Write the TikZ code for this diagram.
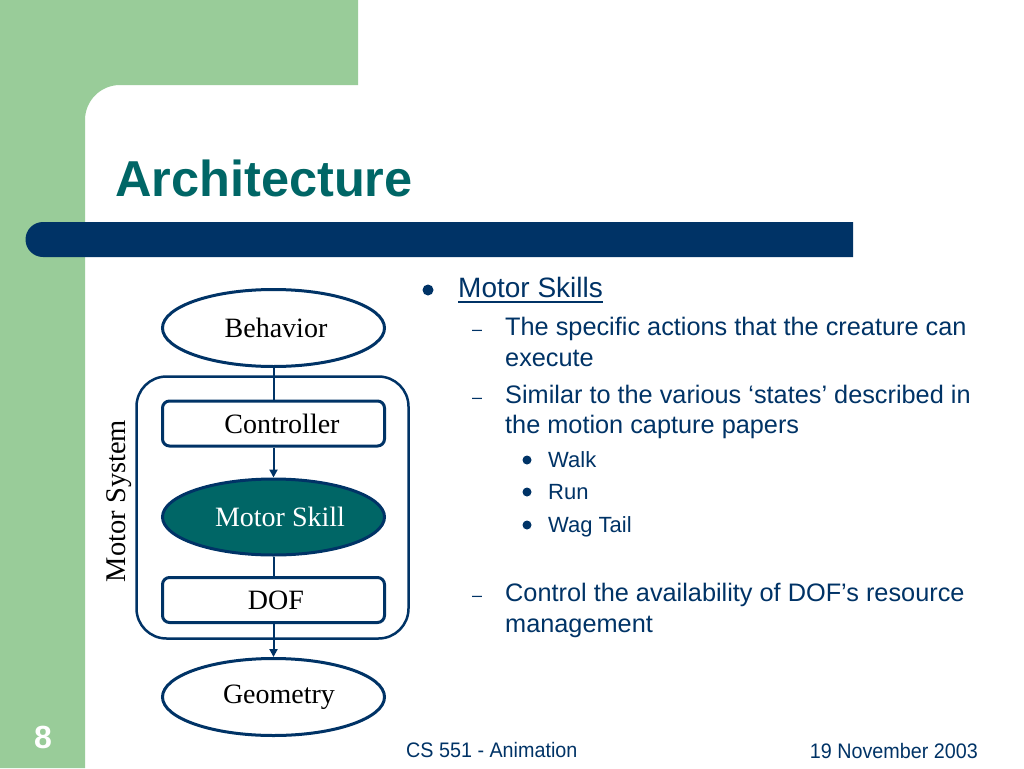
\documentclass[tikz,border=0pt]{standalone}
\usepackage{fontspec}
\usepackage{graphicx}
\setmainfont{Liberation Serif}
\setsansfont{Liberation Sans}
\usetikzlibrary{shapes.geometric,arrows.meta,calc}
\definecolor{navy}{RGB}{0,51,102}
\definecolor{slideteal}{RGB}{0,102,102}
\definecolor{slidegreen}{RGB}{153,204,153}
\newcommand{\fs}[1]{\fontsize{#1}{#1}\selectfont}
\tikzset{
  ovalnode/.style={ellipse, draw=navy, line width=3pt, minimum width=222pt, minimum height=77pt, inner sep=0pt, font=\fs{28}},
  boxnode/.style={rectangle, rounded corners=7pt, draw=navy, line width=3pt, minimum width=222pt, minimum height=45pt, inner sep=0pt, font=\fs{28}},
  link/.style={draw=navy, line width=2pt},
  arrowlink/.style={link, -{Triangle[length=8pt,width=8pt]}},
  body/.style={anchor=base west, inner sep=0pt, text=navy, font=\sffamily\fs{25.3}},
  sub/.style={anchor=base west, inner sep=0pt, text=navy, font=\sffamily\fs{22}},
  dashmark/.style={anchor=base west, inner sep=0pt, text=navy, font=\sffamily\fs{18}},
  foot/.style={inner sep=0pt, text=navy, font=\sffamily\fs{21}},
}
\begin{document}
\begin{tikzpicture}[x=1pt,y=-1pt]
\useasboundingbox (0,0) rectangle (1024,768);
\fill[white] (0,0) rectangle (1024,768);
% green frame
\fill[slidegreen] (0,0) -- (358,0) -- (358,85) -- (120,85)
  arc[start angle=270, end angle=180, radius=35] -- (85,768) -- (0,768) -- cycle;
% title bar
\fill[navy] (43,222) -- (853,222) -- (853,257) -- (43,257)
  arc[start angle=90, end angle=270, radius=17.5] -- cycle;
% title
\node[anchor=base west, inner sep=0pt, text=slideteal, font=\sffamily\bfseries\fs{50.5}] (title) at (115,196) {Architecture};

% diagram
\draw[navy, line width=2.5pt, rounded corners=30pt] (136.5,376.5) rectangle (408.5,638.5);
\node[ovalnode] (beh) at (273.5,328) {\hspace*{5pt}Behavior};
\node[boxnode] (ctrl) at (273.5,423.5) {\hspace*{17pt}Controller};
\node[ovalnode, fill=slideteal, text=white, minimum height=76pt] (skill) at (273.5,517) {\hspace*{13pt}Motor Skill};
\node[boxnode] (dof) at (273.5,600) {\hspace*{5pt}DOF};
\node[ovalnode] (geo) at (273.5,697) {\hspace*{11pt}Geometry};
\node[rotate=90, anchor=base, inner sep=0pt, font=\fs{28.5}] (msys) at (125,501) {Motor System};
\draw[link] (beh.south) -- (ctrl.north);
\draw[arrowlink] (ctrl.south) -- (skill.north);
\draw[link] (skill.south) -- (dof.north);
\draw[arrowlink] (dof.south) -- (geo.north);

% bullets
\fill[navy] (428,290) circle[radius=5.5];
\node[anchor=base west, inner sep=0pt, text=navy, font=\sffamily\fs{28}] (ms) at (458,297) {Motor Skills};
\draw[navy, line width=1.5pt] ($(ms.base west)+(0,5)$) -- ($(ms.base east)+(0,5)$);

\node[dashmark] (d1) at (472,335.5) {–};
\node[body] (l1) at (505,335.5) {The specific actions that the creature can};
\node[body] (l2) at (505,366) {execute};
\node[dashmark] (d2) at (472,403) {–};
\node[body] (l3) at (505,403) {Similar to the various ‘states’ described in};
\node[body] (l4) at (505,433) {the motion capture papers};

\fill[navy] (527,460) circle[radius=4.5];
\node[sub] (w1) at (548,467) {Walk};
\fill[navy] (527,492) circle[radius=4.5];
\node[sub] (w2) at (548,499) {Run};
\fill[navy] (527,525) circle[radius=4.5];
\node[sub] (w3) at (548,532) {Wag Tail};

\node[dashmark] (d3) at (472,601) {–};
\node[body] (l5) at (505,601) {Control the availability of DOF’s resource};
\node[body] (l6) at (505,632) {management};

% footer
\node[anchor=base, inner sep=0pt, text=white, font=\sffamily\bfseries\fs{32}] (num) at (43,748) {8};
\node[foot, anchor=base west] (f1) at (406,757) {\scalebox{0.94}[1]{CS 551 - Animation}};
\node[foot, anchor=base east] (f2) at (978,758) {\scalebox{0.94}[1]{19 November 2003}};
\end{tikzpicture}
\end{document}
